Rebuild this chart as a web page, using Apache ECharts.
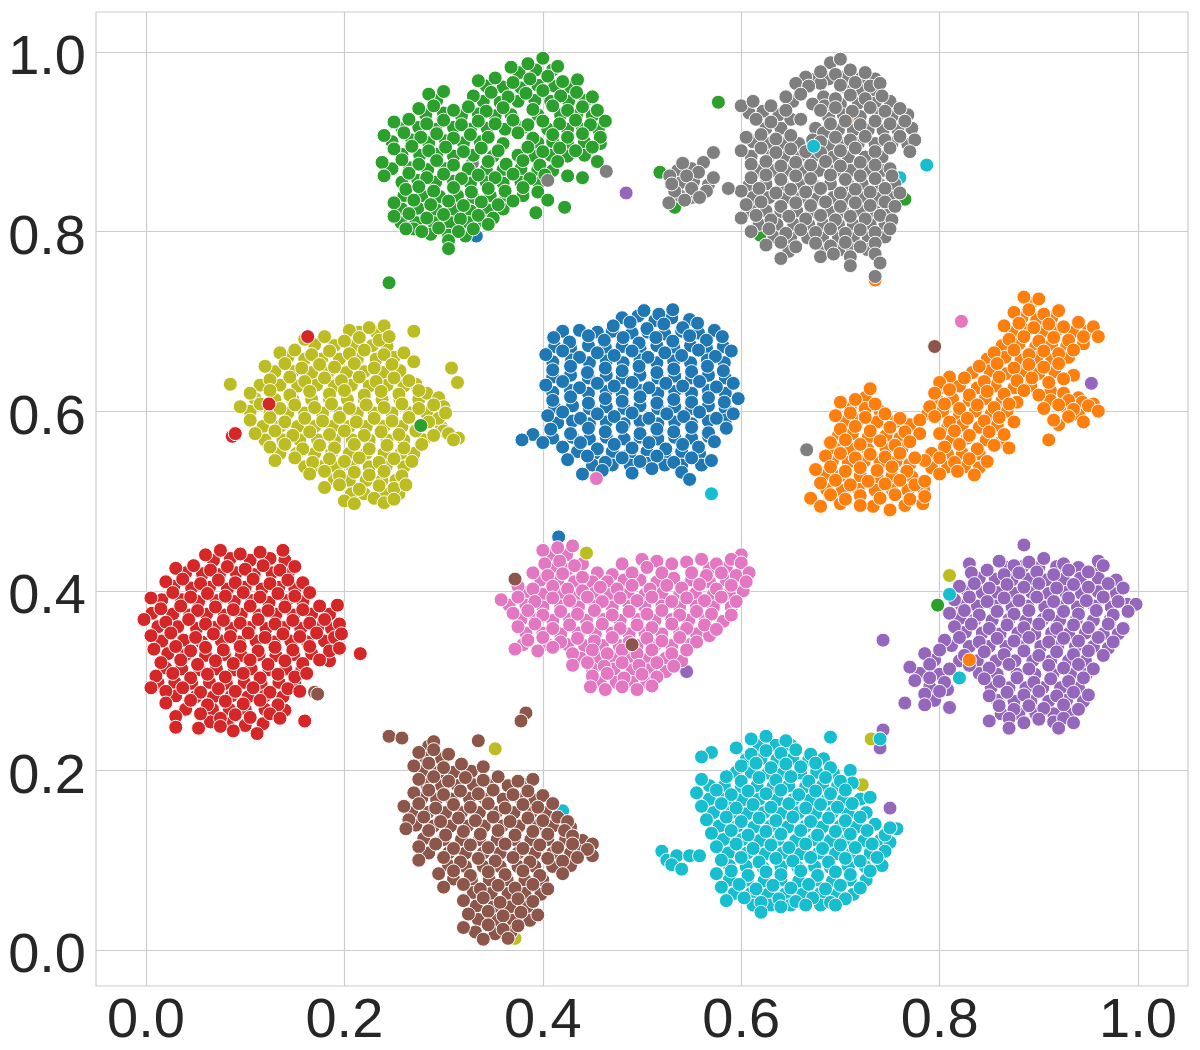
<!DOCTYPE html>
<html><head><meta charset="utf-8">
<style>html,body{margin:0;padding:0;background:#fff}#c{width:1200px;height:1050px}</style>
<script src="https://cdn.jsdelivr.net/npm/echarts@6/dist/echarts.min.js"></script>
</head><body><div id="c"></div>
<script>
const tickValues=[0,0.2,0.4,0.6,0.8,1.0];
const blue=[[.502,.712],[.517,.708],[.531,.713],[.471,.695],[.488,.699],[.505,.692],[.522,.697],[.541,.693],[.556,.698],[.411,.682],[.427,.677],[.446,.684],[.462,.679],[.481,.682],[.497,.676],[.514,.682],[.531,.678],[.548,.684],[.565,.679],[.581,.683],[.403,.663],[.42,.667],[.437,.66],[.455,.665],[.472,.662],[.49,.667],[.506,.66],[.523,.665],[.54,.662],[.557,.668],[.574,.661],[.59,.667],[.41,.646],[.428,.65],[.445,.643],[.463,.648],[.48,.645],[.497,.65],[.515,.643],[.532,.647],[.55,.644],[.566,.65],[.582,.645],[.403,.629],[.42,.633],[.437,.626],[.455,.631],[.472,.628],[.49,.632],[.507,.626],[.524,.631],[.541,.628],[.558,.633],[.575,.627],[.592,.631],[.41,.612],[.428,.616],[.446,.609],[.463,.614],[.48,.611],[.498,.616],[.515,.609],[.532,.613],[.55,.61],[.567,.615],[.583,.61],[.597,.614],[.405,.595],[.42,.599],[.438,.592],[.455,.597],[.472,.594],[.49,.598],[.507,.592],[.525,.597],[.542,.594],[.558,.599],[.575,.592],[.592,.597],[.39,.574],[.408,.58],[.428,.575],[.446,.581],[.463,.577],[.48,.582],[.498,.575],[.515,.58],[.532,.577],[.55,.582],[.567,.576],[.585,.581],[.4,.565],[.42,.56],[.438,.565],[.455,.558],[.472,.563],[.49,.559],[.507,.565],[.524,.558],[.541,.563],[.557,.56],[.573,.566],[.425,.546],[.445,.55],[.463,.543],[.48,.548],[.498,.544],[.515,.55],[.532,.543],[.55,.548],[.57,.545],[.44,.53],[.46,.534],[.49,.531],[.51,.536],[.54,.532],[.548,.524],[.379,.568],[.416,.46],[.333,.795]];
const blueFill=[[.48,.704],[.496,.706],[.513,.701],[.53,.704],[.548,.702],[.42,.689],[.437,.69],[.455,.688],[.47,.689],[.49,.687],[.506,.688],[.523,.686],[.54,.689],[.557,.687],[.573,.69],[.412,.672],[.428,.67],[.446,.673],[.463,.671],[.48,.672],[.498,.67],[.515,.673],[.532,.671],[.549,.673],[.565,.67],[.582,.672],[.41,.655],[.429,.657],[.447,.654],[.464,.656],[.481,.654],[.498,.657],[.515,.654],[.532,.656],[.549,.654],[.566,.657],[.583,.654],[.41,.638],[.428,.64],[.446,.637],[.464,.64],[.48,.637],[.498,.64],[.516,.637],[.533,.639],[.55,.637],[.567,.64],[.584,.637],[.41,.621],[.428,.623],[.446,.62],[.464,.622],[.48,.62],[.498,.623],[.516,.62],[.533,.622],[.55,.62],[.567,.623],[.584,.62],[.412,.604],[.43,.606],[.447,.603],[.464,.605],[.482,.603],[.498,.606],[.516,.603],[.533,.605],[.55,.603],[.567,.606],[.584,.603],[.415,.587],[.43,.589],[.447,.586],[.464,.588],[.482,.586],[.498,.589],[.516,.586],[.533,.588],[.55,.586],[.567,.589],[.584,.59],[.41,.57],[.43,.571],[.447,.569],[.464,.571],[.482,.569],[.498,.571],[.516,.569],[.533,.571],[.55,.57],[.567,.572],[.435,.555],[.452,.553],[.47,.555],[.488,.553],[.505,.555],[.523,.553],[.54,.555],[.558,.553],[.45,.54],[.47,.54],[.488,.54],[.505,.542],[.523,.54],[.54,.54],[.56,.54]];
const orange=[[.885,.727],[.9,.725],[.875,.71],[.89,.713],[.905,.708],[.92,.712],[.865,.695],[.88,.698],[.895,.693],[.91,.697],[.925,.694],[.94,.699],[.955,.694],[.87,.68],[.885,.683],[.9,.678],[.915,.682],[.93,.679],[.945,.683],[.96,.683],[.855,.665],[.875,.668],[.89,.663],[.905,.667],[.92,.664],[.935,.668],[.84,.65],[.858,.653],[.875,.648],[.89,.652],[.905,.649],[.92,.653],[.8,.632],[.825,.637],[.845,.633],[.86,.638],[.878,.634],[.893,.637],[.91,.632],[.925,.636],[.795,.62],[.81,.624],[.83,.618],[.848,.622],[.865,.619],[.885,.623],[.9,.618],[.93,.612],[.79,.605],[.805,.608],[.82,.603],[.838,.607],[.855,.604],[.87,.608],[.905,.603],[.92,.607],[.935,.602],[.95,.606],[.96,.6],[.78,.59],[.795,.594],[.81,.588],[.828,.592],[.845,.589],[.86,.593],[.875,.588],[.915,.59],[.93,.594],[.945,.588],[.8,.575],[.815,.578],[.83,.573],[.85,.577],[.865,.574],[.91,.568],[.805,.56],[.82,.563],[.838,.558],[.855,.562],[.87,.559],[.785,.545],[.8,.548],[.815,.543],[.83,.547],[.848,.544],[.8,.53],[.818,.533],[.835,.529],[.73,.625],[.7,.61],[.715,.613],[.735,.608],[.695,.595],[.71,.598],[.725,.593],[.745,.597],[.76,.592],[.7,.58],[.715,.583],[.73,.578],[.75,.582],[.765,.577],[.78,.575],[.69,.565],[.705,.568],[.72,.563],[.74,.567],[.755,.562],[.77,.566],[.685,.55],[.7,.553],[.715,.548],[.73,.552],[.745,.549],[.76,.553],[.775,.548],[.675,.535],[.69,.538],[.705,.533],[.72,.537],[.737,.534],[.752,.538],[.767,.533],[.68,.52],[.695,.523],[.71,.518],[.728,.522],[.745,.519],[.76,.523],[.775,.518],[.785,.522],[.67,.503],[.69,.507],[.705,.502],[.72,.506],[.74,.503],[.755,.507],[.77,.502],[.785,.505],[.68,.494],[.72,.495],[.75,.49],[.707,.925],[.735,.746]];
const orangeFill=[[.892,.72],[.883,.704],[.898,.702],[.913,.704],[.873,.688],[.888,.69],[.903,.688],[.918,.69],[.934,.688],[.95,.69],[.863,.673],[.88,.675],[.897,.672],[.913,.674],[.928,.672],[.945,.675],[.848,.658],[.866,.66],[.882,.657],[.898,.66],[.913,.657],[.93,.66],[.833,.643],[.851,.645],[.868,.642],[.885,.645],[.9,.642],[.916,.644],[.935,.64],[.81,.638],[.803,.627],[.82,.628],[.838,.626],[.856,.628],[.875,.626],[.892,.628],[.912,.622],[.925,.62],[.94,.615],[.798,.612],[.813,.614],[.83,.612],[.846,.614],[.863,.612],[.878,.61],[.912,.612],[.928,.604],[.944,.61],[.955,.608],[.788,.597],[.803,.6],[.82,.596],[.836,.6],[.852,.597],[.868,.6],[.92,.585],[.94,.596],[.808,.582],[.823,.585],[.84,.582],[.858,.584],[.812,.568],[.828,.57],[.847,.568],[.862,.566],[.792,.553],[.808,.552],[.823,.553],[.84,.552],[.792,.537],[.808,.538],[.825,.538],[.84,.537],[.725,.615],[.71,.605],[.725,.603],[.74,.6],[.703,.588],[.718,.59],[.737,.588],[.755,.588],[.77,.585],[.698,.573],[.712,.575],[.728,.571],[.746,.573],[.76,.57],[.695,.558],[.71,.558],[.728,.557],[.746,.558],[.762,.558],[.692,.544],[.708,.543],[.724,.544],[.74,.543],[.756,.544],[.77,.541],[.683,.528],[.7,.528],[.72,.528],[.737,.527],[.752,.528],[.772,.527],[.686,.513],[.702,.512],[.718,.513],[.735,.512],[.752,.513],[.768,.512],[.784,.513],[.7,.497],[.733,.494],[.765,.495],[.783,.497]];
const green=[[.368,.983],[.385,.987],[.4,.993],[.415,.984],[.335,.968],[.352,.971],[.37,.966],[.387,.97],[.405,.973],[.42,.967],[.435,.969],[.285,.953],[.3,.956],[.33,.951],[.348,.955],[.365,.95],[.383,.954],[.4,.957],[.418,.951],[.434,.955],[.45,.95],[.275,.937],[.29,.94],[.31,.935],[.325,.939],[.343,.934],[.36,.938],[.39,.936],[.41,.94],[.425,.935],[.44,.939],[.455,.935],[.25,.922],[.265,.925],[.283,.92],[.3,.924],[.318,.919],[.335,.923],[.352,.92],[.37,.924],[.385,.919],[.4,.923],[.417,.92],[.433,.924],[.448,.919],[.463,.923],[.24,.907],[.26,.91],[.277,.905],[.293,.909],[.31,.904],[.327,.908],[.345,.905],[.375,.91],[.39,.904],[.41,.908],[.425,.905],[.44,.909],[.458,.905],[.25,.892],[.268,.895],[.285,.89],[.302,.894],[.32,.889],[.338,.893],[.355,.89],[.385,.894],[.4,.889],[.417,.893],[.433,.89],[.45,.894],[.455,.878],[.238,.877],[.258,.88],[.275,.875],[.293,.879],[.31,.874],[.345,.878],[.363,.875],[.38,.879],[.397,.874],[.415,.878],[.425,.862],[.24,.862],[.265,.865],[.283,.86],[.3,.864],[.318,.859],[.335,.863],[.352,.86],[.37,.864],[.387,.859],[.402,.863],[.262,.847],[.275,.85],[.29,.845],[.31,.849],[.328,.844],[.345,.848],[.362,.845],[.38,.849],[.395,.844],[.25,.832],[.27,.835],[.287,.83],[.305,.834],[.32,.829],[.338,.833],[.355,.83],[.37,.834],[.393,.821],[.405,.835],[.25,.817],[.265,.82],[.283,.815],[.3,.819],[.317,.814],[.335,.818],[.35,.815],[.262,.803],[.278,.8],[.295,.804],[.315,.8],[.33,.803],[.345,.808],[.305,.79],[.305,.781],[.245,.743],[.577,.944],[.765,.836],[.44,.86],[.422,.827],[.533,.827],[.518,.866],[.619,.796]];
const greenFill=[[.376,.977],[.393,.98],[.41,.98],[.343,.962],[.36,.961],[.378,.96],[.395,.963],[.412,.962],[.428,.961],[.293,.946],[.34,.945],[.357,.944],[.375,.945],[.392,.946],[.408,.945],[.426,.945],[.443,.946],[.282,.93],[.3,.932],[.318,.929],[.335,.931],[.352,.929],[.368,.93],[.395,.93],[.418,.93],[.434,.93],[.45,.929],[.258,.915],[.275,.916],[.292,.914],[.31,.916],[.327,.914],[.344,.915],[.362,.914],[.38,.916],[.405,.914],[.425,.914],[.44,.914],[.456,.914],[.248,.9],[.268,.902],[.285,.899],[.302,.901],[.32,.899],[.337,.9],[.36,.898],[.395,.899],[.41,.9],[.425,.898],[.442,.9],[.458,.898],[.258,.886],[.276,.885],[.293,.886],[.31,.884],[.33,.885],[.35,.884],[.375,.885],[.392,.884],[.408,.885],[.425,.884],[.442,.885],[.248,.87],[.266,.871],[.284,.869],[.302,.87],[.325,.87],[.343,.869],[.36,.869],[.378,.87],[.395,.869],[.41,.868],[.258,.855],[.274,.857],[.292,.855],[.31,.856],[.327,.854],[.343,.855],[.36,.854],[.378,.855],[.396,.854],[.26,.84],[.278,.84],[.296,.839],[.314,.84],[.33,.838],[.347,.84],[.363,.838],[.38,.84],[.258,.825],[.274,.826],[.293,.824],[.31,.825],[.327,.823],[.345,.824],[.36,.825],[.257,.81],[.272,.81],[.29,.81],[.307,.81],[.325,.81],[.34,.812],[.27,.803],[.287,.797],[.305,.796],[.322,.795]];
const red=[[.06,.44],[.075,.445],[.095,.441],[.115,.443],[.138,.445],[.03,.425],[.048,.428],[.065,.423],[.082,.427],[.1,.424],[.118,.428],[.135,.423],[.15,.427],[.02,.41],[.037,.413],[.055,.408],[.073,.412],[.09,.409],[.108,.413],[.125,.408],[.143,.412],[.158,.409],[.005,.392],[.027,.398],[.045,.393],[.062,.397],[.08,.394],[.098,.398],[.115,.393],[.133,.397],[.15,.394],[.165,.398],[.015,.38],[.035,.383],[.052,.378],[.07,.382],[.088,.379],[.105,.383],[.123,.378],[.14,.382],[.158,.379],[.175,.383],[.193,.384],[-.002,.368],[.02,.365],[.043,.368],[.06,.363],[.078,.367],[.095,.364],[.113,.368],[.13,.363],[.148,.367],[.165,.364],[.18,.368],[.195,.363],[.005,.35],[.025,.353],[.05,.348],[.068,.352],[.085,.349],[.103,.353],[.12,.348],[.138,.352],[.155,.349],[.172,.353],[.19,.348],[.197,.352],[.008,.335],[.03,.338],[.045,.333],[.06,.337],[.078,.334],[.095,.338],[.113,.333],[.13,.337],[.148,.334],[.165,.338],[.185,.333],[.195,.336],[.015,.32],[.035,.323],[.052,.318],[.07,.322],[.088,.319],[.105,.323],[.123,.318],[.14,.322],[.158,.319],[.175,.323],[.01,.305],[.027,.308],[.045,.303],[.062,.307],[.08,.304],[.098,.308],[.115,.303],[.133,.307],[.15,.304],[.162,.308],[.005,.292],[.02,.288],[.037,.292],[.055,.287],[.073,.291],[.09,.288],[.108,.292],[.125,.287],[.143,.291],[.155,.288],[.02,.275],[.045,.278],[.062,.273],[.08,.277],[.098,.274],[.115,.278],[.133,.273],[.03,.26],[.055,.263],[.075,.258],[.09,.262],[.105,.259],[.125,.263],[.135,.258],[.03,.248],[.053,.247],[.075,.249],[.088,.244],[.112,.241],[.216,.33],[.16,.255],[.087,.572],[.09,.575]];
const redFill=[[.068,.434],[.085,.436],[.105,.434],[.125,.436],[.14,.434],[.04,.42],[.057,.419],[.074,.418],[.091,.42],[.109,.418],[.127,.42],[.143,.418],[.028,.405],[.046,.403],[.064,.404],[.082,.402],[.1,.404],[.117,.402],[.134,.404],[.15,.402],[.016,.39],[.036,.39],[.053,.388],[.071,.389],[.089,.388],[.107,.389],[.124,.387],[.142,.389],[.158,.388],[.006,.375],[.027,.374],[.044,.373],[.061,.374],[.079,.373],[.096,.374],[.114,.373],[.131,.374],[.149,.373],[.167,.374],[.185,.374],[.012,.36],[.032,.36],[.051,.358],[.069,.359],[.086,.358],[.104,.359],[.121,.358],[.139,.359],[.156,.358],[.173,.359],[.187,.358],[.016,.344],[.038,.345],[.056,.343],[.076,.344],[.094,.343],[.111,.344],[.129,.343],[.146,.344],[.163,.343],[.18,.344],[.022,.33],[.04,.329],[.06,.328],[.079,.329],[.096,.328],[.114,.329],[.131,.328],[.149,.329],[.167,.33],[.185,.322],[.02,.314],[.036,.313],[.054,.312],[.071,.313],[.089,.312],[.106,.313],[.124,.312],[.141,.313],[.157,.312],[.012,.298],[.029,.298],[.046,.297],[.064,.298],[.081,.297],[.099,.298],[.116,.297],[.134,.298],[.15,.297],[.03,.283],[.05,.282],[.068,.282],[.086,.283],[.103,.282],[.12,.283],[.138,.282],[.04,.268],[.067,.268],[.084,.268],[.1,.268],[.12,.268],[.14,.267],[.065,.254],[.082,.252],[.1,.25],[.118,.252]];
const purple=[[.885,.451],[.83,.43],[.86,.433],[.875,.428],[.89,.432],[.905,.436],[.925,.43],[.96,.433],[.832,.42],[.848,.423],[.865,.418],[.88,.42],[.898,.421],[.915,.418],[.93,.423],[.95,.421],[.965,.428],[.82,.405],[.835,.408],[.85,.403],[.868,.407],[.885,.404],[.9,.408],[.918,.403],[.935,.407],[.95,.404],[.97,.408],[.985,.403],[.815,.39],[.83,.393],[.848,.388],[.865,.392],[.88,.389],[.898,.393],[.915,.388],[.93,.392],[.948,.389],[.965,.393],[.98,.388],[.998,.385],[.81,.375],[.825,.378],[.84,.373],[.858,.377],[.875,.374],[.89,.378],[.91,.373],[.925,.377],[.94,.374],[.958,.378],[.975,.373],[.99,.377],[.815,.36],[.832,.363],[.85,.358],[.868,.362],[.885,.359],[.9,.363],[.918,.358],[.935,.362],[.95,.359],[.97,.363],[.985,.358],[.805,.345],[.82,.348],[.84,.343],[.858,.347],[.875,.344],[.89,.348],[.91,.343],[.925,.347],[.94,.344],[.96,.348],[.975,.343],[.785,.33],[.8,.334],[.825,.328],[.845,.332],[.865,.329],[.885,.333],[.9,.328],[.918,.332],[.935,.329],[.95,.333],[.965,.328],[.77,.315],[.79,.318],[.81,.313],[.83,.317],[.85,.314],[.87,.318],[.89,.313],[.91,.317],[.925,.314],[.94,.318],[.955,.313],[.775,.3],[.79,.303],[.805,.298],[.845,.302],[.86,.299],[.878,.303],[.895,.298],[.912,.302],[.93,.299],[.945,.303],[.785,.285],[.8,.288],[.85,.283],[.868,.287],[.885,.284],[.9,.288],[.918,.283],[.935,.287],[.95,.284],[.765,.275],[.785,.273],[.81,.27],[.86,.272],[.875,.268],[.89,.272],[.905,.269],[.925,.273],[.94,.268],[.85,.255],[.87,.258],[.885,.253],[.9,.257],[.915,.254],[.925,.258],[.935,.253],[.87,.247],[.92,.247],[.743,.345],[.484,.843],[.953,.631],[.545,.31],[.743,.245],[.74,.235],[.74,.225],[.75,.158]];
const purpleFill=[[.868,.426],[.884,.427],[.9,.426],[.918,.427],[.94,.426],[.958,.422],[.84,.414],[.856,.413],[.873,.412],[.89,.413],[.907,.412],[.925,.413],[.942,.414],[.96,.414],[.978,.412],[.828,.4],[.843,.398],[.858,.398],[.876,.397],[.893,.398],[.91,.397],[.927,.398],[.943,.397],[.96,.399],[.978,.397],[.822,.384],[.838,.383],[.856,.383],[.873,.382],[.889,.383],[.906,.382],[.923,.383],[.939,.382],[.956,.383],[.973,.382],[.989,.385],[.82,.369],[.836,.368],[.853,.367],[.87,.368],[.887,.367],[.904,.368],[.921,.367],[.938,.368],[.955,.367],[.972,.368],[.826,.354],[.843,.353],[.861,.352],[.879,.353],[.896,.352],[.913,.353],[.93,.352],[.947,.353],[.965,.352],[.98,.352],[.812,.339],[.83,.338],[.85,.338],[.867,.338],[.884,.338],[.902,.338],[.919,.338],[.937,.338],[.955,.338],[.97,.336],[.795,.323],[.82,.322],[.838,.322],[.857,.322],[.876,.322],[.894,.322],[.912,.322],[.93,.322],[.947,.322],[.78,.308],[.8,.307],[.84,.308],[.858,.307],[.878,.307],[.896,.307],[.914,.307],[.932,.307],[.948,.307],[.79,.293],[.808,.29],[.852,.292],[.87,.292],[.887,.292],[.904,.292],[.922,.292],[.94,.292],[.795,.278],[.858,.278],[.875,.277],[.892,.277],[.91,.277],[.928,.278],[.945,.277],[.862,.263],[.88,.263],[.897,.263],[.915,.263],[.93,.263]];
const brown=[[.245,.238],[.258,.236],[.29,.232],[.275,.22],[.29,.223],[.305,.218],[.27,.205],[.285,.208],[.3,.203],[.318,.207],[.34,.204],[.275,.19],[.29,.193],[.305,.188],[.322,.192],[.34,.189],[.355,.193],[.375,.188],[.39,.19],[.27,.175],[.285,.178],[.3,.173],[.317,.177],[.335,.174],[.35,.178],[.37,.173],[.385,.177],[.4,.172],[.26,.16],[.275,.163],[.292,.158],[.31,.162],[.327,.159],[.345,.163],[.362,.158],[.38,.162],[.395,.159],[.41,.163],[.265,.145],[.28,.148],[.297,.143],[.315,.147],[.332,.144],[.35,.148],[.367,.143],[.385,.147],[.4,.144],[.415,.148],[.425,.143],[.262,.135],[.285,.133],[.302,.128],[.32,.132],[.337,.129],[.355,.133],[.372,.128],[.39,.132],[.405,.129],[.422,.133],[.43,.127],[.275,.115],[.292,.118],[.31,.113],[.327,.117],[.345,.114],[.362,.118],[.38,.113],[.397,.117],[.415,.114],[.43,.118],[.445,.112],[.275,.1],[.3,.103],[.317,.098],[.335,.102],[.352,.099],[.37,.103],[.387,.098],[.405,.102],[.42,.099],[.435,.103],[.295,.085],[.31,.088],[.327,.083],[.345,.087],[.362,.084],[.38,.088],[.397,.083],[.42,.085],[.3,.07],[.32,.073],[.337,.068],[.355,.072],[.372,.069],[.39,.073],[.405,.068],[.32,.055],[.34,.058],[.357,.053],[.375,.057],[.39,.054],[.325,.04],[.345,.043],[.36,.038],[.378,.042],[.395,.039],[.32,.025],[.345,.028],[.36,.023],[.375,.027],[.34,.012],[.365,.013],[.383,.264],[.378,.255],[.335,.233],[.17,.287],[.173,.285],[.795,.672]];
const brownFill=[[.285,.227],[.282,.214],[.298,.213],[.278,.199],[.295,.198],[.31,.198],[.328,.199],[.283,.184],[.298,.183],[.314,.183],[.33,.184],[.348,.184],[.365,.183],[.383,.184],[.278,.169],[.293,.168],[.308,.168],[.326,.169],[.342,.168],[.36,.168],[.378,.168],[.392,.167],[.268,.153],[.284,.153],[.302,.153],[.318,.153],[.336,.153],[.353,.153],[.371,.153],[.388,.153],[.403,.153],[.272,.139],[.29,.138],[.307,.138],[.324,.138],[.341,.138],[.359,.138],[.376,.138],[.393,.138],[.41,.138],[.428,.137],[.28,.124],[.3,.123],[.318,.123],[.336,.123],[.354,.123],[.371,.123],[.388,.123],[.405,.123],[.423,.123],[.44,.122],[.45,.118],[.438,.11],[.285,.108],[.305,.108],[.322,.108],[.34,.108],[.357,.108],[.375,.108],[.392,.108],[.41,.108],[.428,.108],[.45,.105],[.305,.094],[.322,.093],[.34,.093],[.357,.093],[.375,.093],[.392,.093],[.41,.093],[.428,.094],[.31,.079],[.328,.078],[.346,.078],[.364,.078],[.382,.078],[.4,.078],[.33,.064],[.348,.063],[.365,.063],[.382,.063],[.398,.062],[.333,.049],[.35,.048],[.367,.048],[.384,.048],[.335,.034],[.352,.033],[.37,.033],[.387,.033],[.332,.02],[.352,.018],[.368,.02]];
const pink=[[.4,.445],[.415,.448],[.43,.45],[.402,.43],[.417,.433],[.432,.428],[.56,.435],[.575,.43],[.59,.435],[.6,.431],[.39,.42],[.405,.417],[.42,.419],[.44,.415],[.49,.42],[.505,.426],[.52,.42],[.55,.42],[.565,.417],[.58,.42],[.595,.417],[.608,.42],[.375,.405],[.39,.402],[.41,.405],[.425,.402],[.44,.4],[.458,.404],[.475,.402],[.49,.406],[.508,.402],[.525,.406],[.54,.403],[.558,.407],[.575,.402],[.59,.406],[.605,.41],[.358,.39],[.375,.393],[.392,.388],[.41,.392],[.427,.389],[.445,.393],[.46,.388],[.478,.392],[.495,.389],[.51,.393],[.53,.388],[.545,.392],[.563,.389],[.58,.393],[.595,.388],[.37,.375],[.385,.378],[.4,.373],[.418,.377],[.435,.374],[.452,.378],[.47,.373],[.487,.377],[.505,.374],[.52,.378],[.538,.373],[.555,.377],[.57,.374],[.59,.373],[.375,.36],[.392,.363],[.41,.358],[.427,.362],[.445,.359],[.46,.363],[.478,.358],[.495,.362],[.51,.359],[.53,.363],[.545,.358],[.563,.362],[.575,.357],[.385,.345],[.4,.348],[.418,.343],[.435,.347],[.452,.344],[.47,.348],[.487,.343],[.505,.347],[.52,.344],[.538,.348],[.555,.343],[.372,.335],[.395,.333],[.41,.337],[.43,.33],[.45,.334],[.465,.33],[.48,.334],[.495,.33],[.51,.334],[.53,.33],[.545,.334],[.43,.317],[.445,.32],[.462,.316],[.48,.32],[.497,.317],[.515,.32],[.532,.316],[.45,.305],[.465,.308],[.482,.303],[.5,.307],[.515,.304],[.448,.293],[.463,.29],[.48,.293],[.495,.29],[.51,.294],[.454,.525],[.822,.7]];
const pinkFill=[[.408,.44],[.424,.44],[.41,.425],[.425,.424],[.44,.43],[.455,.42],[.47,.418],[.48,.43],[.5,.435],[.515,.433],[.53,.43],[.545,.432],[.568,.425],[.585,.426],[.6,.44],[.398,.412],[.415,.412],[.432,.41],[.45,.41],[.465,.41],[.482,.412],[.498,.412],[.515,.41],[.532,.414],[.55,.412],[.568,.41],[.585,.412],[.602,.4],[.383,.398],[.4,.396],[.418,.397],[.436,.396],[.452,.397],[.468,.396],[.486,.397],[.503,.396],[.52,.397],[.538,.396],[.554,.397],[.572,.396],[.588,.397],[.366,.384],[.383,.384],[.4,.382],[.418,.383],[.436,.382],[.453,.383],[.47,.382],[.487,.383],[.503,.382],[.52,.383],[.538,.382],[.555,.383],[.572,.382],[.59,.382],[.378,.368],[.393,.368],[.41,.367],[.427,.368],[.444,.367],[.461,.368],[.478,.367],[.496,.368],[.513,.367],[.53,.368],[.547,.367],[.564,.368],[.582,.366],[.383,.353],[.4,.353],[.418,.352],[.436,.353],[.453,.352],[.47,.353],[.487,.352],[.503,.353],[.52,.352],[.538,.353],[.555,.352],[.568,.35],[.38,.34],[.405,.34],[.425,.34],[.442,.339],[.46,.339],[.477,.339],[.495,.339],[.513,.339],[.53,.339],[.548,.34],[.438,.325],[.455,.325],[.472,.325],[.49,.325],[.507,.325],[.524,.325],[.54,.322],[.45,.313],[.472,.313],[.49,.312],[.507,.312],[.524,.31],[.458,.298],[.474,.298],[.49,.298],[.505,.298]];
const gray=[[.69,.988],[.7,.992],[.665,.972],[.68,.978],[.695,.975],[.71,.98],[.725,.977],[.655,.965],[.668,.962],[.7,.963],[.715,.966],[.73,.962],[.74,.965],[.645,.95],[.66,.953],[.695,.948],[.71,.952],[.725,.948],[.742,.951],[.6,.94],[.612,.945],[.63,.94],[.645,.935],[.68,.935],[.695,.938],[.712,.934],[.73,.938],[.745,.934],[.76,.937],[.615,.925],[.63,.922],[.66,.925],[.69,.92],[.705,.923],[.72,.919],[.735,.923],[.75,.92],[.765,.923],[.605,.905],[.62,.908],[.635,.903],[.65,.907],[.68,.9],[.695,.905],[.71,.902],[.725,.906],[.745,.902],[.76,.906],[.775,.902],[.6,.89],[.62,.893],[.635,.888],[.65,.892],[.665,.889],[.68,.888],[.7,.89],[.715,.893],[.735,.889],[.75,.893],[.77,.889],[.61,.875],[.625,.878],[.64,.873],[.655,.877],[.67,.874],[.685,.878],[.7,.873],[.72,.877],[.735,.874],[.75,.87],[.61,.86],[.625,.863],[.64,.858],[.655,.862],[.67,.859],[.69,.863],[.705,.858],[.72,.862],[.735,.859],[.752,.862],[.6,.845],[.618,.848],[.635,.843],[.65,.847],[.665,.844],[.68,.848],[.7,.843],[.715,.847],[.73,.844],[.745,.848],[.76,.843],[.605,.83],[.62,.833],[.64,.828],[.655,.832],[.67,.829],[.685,.833],[.7,.828],[.715,.832],[.73,.829],[.745,.833],[.755,.828],[.6,.815],[.615,.818],[.63,.813],[.648,.817],[.665,.814],[.68,.818],[.695,.813],[.71,.817],[.725,.814],[.74,.818],[.752,.813],[.61,.8],[.628,.803],[.645,.798],[.66,.802],[.675,.799],[.69,.803],[.705,.798],[.72,.802],[.735,.799],[.75,.803],[.625,.785],[.64,.788],[.655,.783],[.675,.787],[.69,.784],[.705,.788],[.72,.783],[.735,.787],[.64,.77],[.68,.772],[.693,.775],[.71,.772],[.735,.775],[.71,.762],[.74,.765],[.735,.75],[.572,.888],[.562,.877],[.541,.876],[.557,.866],[.528,.862],[.545,.862],[.572,.86],[.587,.848],[.533,.845],[.55,.848],[.565,.845],[.527,.832],[.543,.835],[.558,.838],[.53,.853],[.405,.857],[.464,.867],[.666,.557]];
const grayFill=[[.675,.97],[.688,.97],[.705,.972],[.72,.97],[.735,.97],[.66,.96],[.708,.958],[.722,.957],[.736,.957],[.652,.945],[.7,.942],[.718,.943],[.735,.943],[.75,.945],[.608,.932],[.622,.934],[.638,.93],[.65,.925],[.688,.928],[.703,.93],[.72,.928],[.738,.93],[.752,.928],[.768,.93],[.625,.915],[.64,.915],[.698,.913],[.713,.913],[.728,.913],[.743,.913],[.758,.913],[.772,.915],[.612,.9],[.628,.898],[.643,.898],[.658,.898],[.688,.895],[.703,.898],[.718,.898],[.735,.898],[.752,.898],[.768,.897],[.61,.884],[.628,.884],[.643,.883],[.658,.883],[.672,.883],[.693,.883],[.708,.883],[.725,.883],[.742,.883],[.618,.868],[.632,.868],[.648,.868],[.663,.868],[.678,.868],[.695,.868],[.71,.868],[.728,.868],[.743,.868],[.608,.852],[.625,.853],[.642,.852],[.658,.853],[.673,.852],[.69,.853],[.708,.852],[.722,.853],[.74,.852],[.755,.853],[.612,.838],[.628,.838],[.645,.837],[.66,.838],[.677,.837],[.693,.838],[.708,.837],[.723,.838],[.738,.837],[.752,.838],[.61,.823],[.625,.823],[.64,.822],[.656,.823],[.672,.822],[.688,.823],[.703,.822],[.72,.823],[.735,.822],[.75,.822],[.618,.808],[.636,.808],[.653,.808],[.668,.808],[.683,.808],[.698,.808],[.713,.808],[.73,.808],[.745,.808],[.633,.794],[.65,.793],[.667,.793],[.682,.793],[.698,.793],[.713,.793],[.728,.793],[.745,.794],[.648,.778],[.685,.78],[.7,.78],[.712,.78],[.727,.78],[.567,.852],[.55,.87],[.536,.868],[.552,.856],[.538,.854],[.538,.84],[.55,.838],[.68,.965],[.683,.95],[.672,.942],[.684,.94],[.675,.915],[.683,.91],[.672,.902]];
const olive=[[.205,.69],[.225,.693],[.24,.695],[.16,.68],[.18,.683],[.2,.678],[.215,.682],[.235,.679],[.245,.683],[.135,.665],[.15,.668],[.167,.663],[.185,.667],[.205,.664],[.22,.668],[.24,.663],[.26,.665],[.12,.65],[.14,.653],[.157,.648],[.175,.652],[.19,.649],[.21,.653],[.23,.648],[.248,.652],[.125,.635],[.145,.638],[.16,.633],[.18,.637],[.197,.634],[.215,.638],[.232,.633],[.25,.637],[.265,.634],[.105,.62],[.125,.623],[.145,.618],[.165,.622],[.185,.619],[.2,.623],[.22,.618],[.237,.622],[.255,.619],[.275,.623],[.095,.605],[.115,.608],[.135,.603],[.15,.607],[.17,.604],[.187,.608],[.205,.603],[.222,.607],[.24,.604],[.258,.608],[.275,.603],[.29,.607],[.105,.59],[.125,.593],[.14,.588],[.16,.592],[.178,.589],[.195,.593],[.212,.588],[.23,.592],[.248,.589],[.265,.593],[.285,.588],[.302,.598],[.11,.575],[.13,.578],[.148,.573],[.165,.577],[.185,.574],[.2,.578],[.22,.573],[.237,.577],[.255,.574],[.272,.578],[.29,.573],[.125,.56],[.14,.563],[.158,.558],[.175,.562],[.19,.559],[.21,.563],[.225,.558],[.243,.562],[.26,.559],[.278,.563],[.13,.545],[.15,.548],[.168,.543],[.185,.547],[.2,.544],[.215,.548],[.235,.543],[.25,.547],[.268,.544],[.165,.53],[.18,.533],[.195,.528],[.21,.532],[.225,.529],[.24,.533],[.258,.528],[.18,.515],[.195,.518],[.215,.513],[.235,.517],[.25,.514],[.262,.518],[.2,.5],[.21,.497],[.23,.503],[.24,.498],[.25,.502],[.085,.63],[.27,.689],[.308,.648],[.314,.632],[.315,.57],[.31,.568],[.27,.655],[.352,.224],[.81,.417],[.731,.235],[.722,.184],[.444,.442]];
const oliveFill=[[.215,.688],[.232,.688],[.17,.674],[.19,.673],[.21,.673],[.228,.673],[.243,.672],[.143,.66],[.16,.658],[.177,.658],[.195,.658],[.213,.658],[.232,.658],[.25,.66],[.13,.644],[.148,.644],[.167,.643],[.184,.644],[.202,.643],[.22,.644],[.239,.643],[.256,.645],[.115,.629],[.135,.629],[.153,.628],[.172,.629],[.19,.628],[.207,.629],[.225,.628],[.243,.629],[.26,.628],[.272,.63],[.11,.614],[.13,.613],[.148,.613],[.167,.613],[.185,.613],[.203,.613],[.22,.613],[.238,.613],[.256,.613],[.275,.613],[.105,.6],[.125,.598],[.143,.598],[.16,.598],[.178,.598],[.196,.598],[.213,.598],[.23,.598],[.248,.598],[.266,.598],[.283,.598],[.298,.582],[.118,.583],[.135,.583],[.153,.583],[.17,.583],[.188,.583],[.205,.583],[.222,.583],[.24,.583],[.258,.583],[.276,.583],[.295,.592],[.12,.568],[.138,.568],[.155,.568],[.173,.568],[.19,.568],[.208,.568],[.225,.568],[.243,.568],[.26,.568],[.28,.568],[.135,.553],[.152,.553],[.17,.553],[.187,.553],[.205,.553],[.222,.553],[.24,.553],[.257,.553],[.27,.553],[.16,.538],[.176,.538],[.192,.538],[.208,.538],[.225,.538],[.242,.538],[.26,.538],[.19,.524],[.205,.523],[.222,.523],[.238,.523],[.252,.523],[.207,.508],[.22,.508],[.24,.508],[.255,.508],[.283,.62],[.295,.615],[.3,.605],[.3,.578],[.305,.575]];
const cyan=[[.61,.235],[.625,.238],[.645,.233],[.69,.237],[.57,.22],[.595,.225],[.61,.218],[.625,.222],[.64,.219],[.655,.223],[.67,.218],[.56,.215],[.6,.205],[.615,.208],[.63,.203],[.645,.207],[.66,.204],[.675,.208],[.69,.203],[.56,.19],[.585,.193],[.6,.188],[.618,.192],[.635,.189],[.65,.193],[.668,.188],[.685,.192],[.7,.188],[.555,.175],[.575,.178],[.59,.173],[.607,.177],[.625,.174],[.64,.178],[.658,.173],[.675,.177],[.69,.174],[.705,.178],[.56,.16],[.58,.163],[.595,.158],[.612,.162],[.63,.159],[.648,.163],[.665,.158],[.68,.162],[.697,.159],[.712,.163],[.73,.17],[.565,.145],[.585,.148],[.6,.143],[.618,.147],[.635,.144],[.652,.148],[.67,.143],[.688,.147],[.705,.144],[.72,.148],[.57,.13],[.59,.133],[.607,.128],[.625,.132],[.64,.129],[.66,.133],[.677,.128],[.695,.132],[.71,.129],[.727,.133],[.745,.128],[.575,.115],[.595,.118],[.612,.113],[.63,.117],[.648,.114],[.665,.118],[.682,.113],[.7,.117],[.715,.114],[.732,.118],[.75,.136],[.58,.1],[.6,.103],[.618,.098],[.635,.102],[.652,.099],[.67,.103],[.688,.098],[.705,.102],[.72,.099],[.737,.103],[.575,.085],[.59,.088],[.607,.083],[.625,.087],[.64,.084],[.66,.088],[.677,.083],[.695,.087],[.71,.084],[.73,.088],[.58,.07],[.598,.073],[.615,.068],[.632,.072],[.65,.069],[.668,.073],[.685,.068],[.7,.072],[.72,.069],[.585,.055],[.603,.058],[.62,.053],[.638,.057],[.655,.054],[.672,.058],[.69,.053],[.705,.057],[.62,.042],[.64,.048],[.665,.05],[.695,.05],[.52,.11],[.525,.1],[.535,.105],[.53,.095],[.54,.09],[.548,.105],[.558,.105],[.57,.508],[.673,.895],[.787,.874],[.82,.303],[.81,.396],[.74,.235]];
const cyanFill=[[.618,.228],[.635,.228],[.65,.228],[.605,.212],[.62,.213],[.636,.212],[.652,.213],[.668,.212],[.683,.213],[.595,.198],[.61,.198],[.627,.197],[.643,.198],[.66,.197],[.676,.198],[.693,.197],[.71,.2],[.568,.183],[.583,.183],[.6,.182],[.616,.183],[.632,.182],[.648,.183],[.665,.182],[.682,.183],[.697,.182],[.712,.186],[.568,.168],[.585,.168],[.601,.167],[.618,.168],[.636,.167],[.653,.168],[.67,.167],[.687,.168],[.703,.167],[.72,.168],[.572,.153],[.59,.153],[.606,.152],[.623,.153],[.64,.152],[.658,.153],[.675,.152],[.692,.153],[.708,.152],[.726,.153],[.578,.138],[.596,.138],[.613,.137],[.63,.138],[.647,.137],[.665,.138],[.682,.137],[.7,.138],[.716,.137],[.735,.14],[.582,.123],[.601,.123],[.619,.122],[.637,.123],[.655,.122],[.673,.123],[.69,.122],[.707,.123],[.724,.122],[.74,.122],[.757,.135],[.75,.12],[.587,.108],[.606,.108],[.624,.107],[.642,.108],[.66,.107],[.678,.108],[.695,.107],[.712,.108],[.73,.108],[.745,.11],[.588,.094],[.605,.093],[.622,.092],[.64,.093],[.657,.092],[.674,.093],[.69,.092],[.708,.093],[.725,.093],[.742,.094],[.588,.078],[.606,.078],[.623,.077],[.64,.078],[.658,.077],[.675,.078],[.692,.077],[.71,.078],[.726,.078],[.593,.063],[.61,.063],[.627,.062],[.645,.063],[.662,.062],[.68,.063],[.697,.062],[.713,.062],[.612,.05],[.63,.05],[.65,.05],[.68,.05]];
const underGray=[[.329,.876]];
const underCyan=[[.42,.155],[.76,.86]];
const underOlive=[[.372,.013]];
const topGreen=[[.277,.584],[.798,.384]];
const topOrange=[[.83,.323]];
const topBrown=[[.372,.413],[.49,.34]];
const topRed=[[.124,.608],[.163,.683]];
const groups=[
 ['underGray',underGray,'#7f7f7f'],['underCyan',underCyan,'#17becf'],['underOlive',underOlive,'#bcbd22'],
 ['blue',blueFill.concat(blue),'#1f77b4'],['orange',orangeFill.concat(orange),'#ff7f0e'],['green',greenFill.concat(green),'#2ca02c'],['red',redFill.concat(red),'#d62728'],['purple',purpleFill.concat(purple),'#9467bd'],['brown',brownFill.concat(brown),'#8c564b'],['pink',pinkFill.concat(pink),'#e377c2'],['gray',grayFill.concat(gray),'#7f7f7f'],['olive',oliveFill.concat(olive),'#bcbd22'],['cyan',cyanFill.concat(cyan),'#17becf'],
 ['topGreen',topGreen,'#2ca02c'],['topOrange',topOrange,'#ff7f0e'],['topBrown',topBrown,'#8c564b'],['topRed',topRed,'#d62728']];
const labelFont={fontFamily:'Liberation Sans',fontSize:56,color:'#262626'};
const axisCommon={
  axisLine:{show:false},
  axisTick:{show:false,customValues:tickValues},
  splitLine:{show:true,lineStyle:{color:'#cccccc',width:1.2}},
  axisLabel:Object.assign({customValues:tickValues,formatter:v=>v.toFixed(1)},labelFont)
};
const chart=echarts.init(document.getElementById('c'),null,{renderer:'canvas'});
chart.setOption({
  animation:false,backgroundColor:'#fff',
  grid:{left:96,right:12,top:12,bottom:64,show:true,borderColor:'#cccccc',borderWidth:1.2,backgroundColor:'#fff'},
  xAxis:Object.assign({type:'value',min:-0.0504,max:1.0504},axisCommon,{axisLabel:Object.assign({},axisCommon.axisLabel,{margin:8})}),
  yAxis:Object.assign({type:'value',min:-0.0401,max:1.0445},axisCommon,{axisLabel:Object.assign({},axisCommon.axisLabel,{margin:10,formatter:v=>'{a|'+v.toFixed(1)+'}',rich:{a:Object.assign({padding:[14,0,0,0]},labelFont)}})}),
  series:groups.map(g=>({type:'scatter',name:g[0],data:g[1],symbolSize:14,clip:false,itemStyle:{color:g[2],borderColor:'#fff',borderWidth:1,opacity:1}}))
});
</script></body></html>
